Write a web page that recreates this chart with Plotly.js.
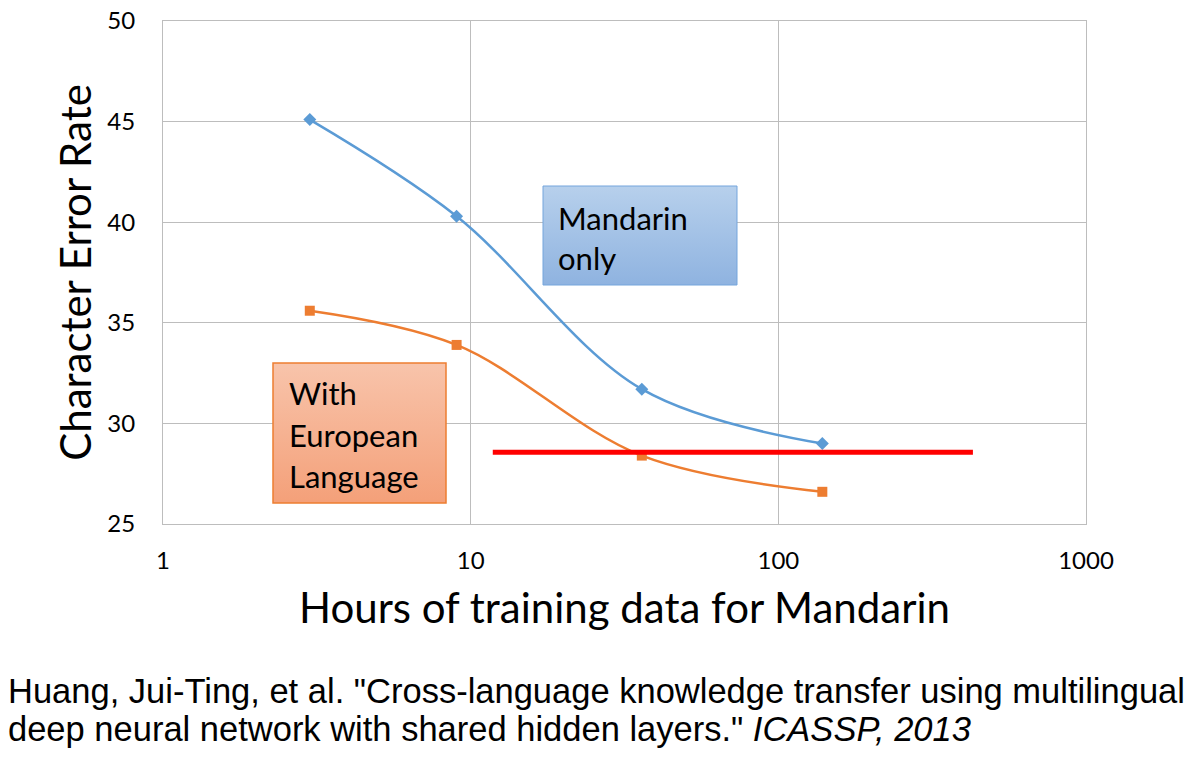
<!DOCTYPE html>
<html>
<head>
<meta charset="utf-8">
<script src="https://cdn.plot.ly/plotly-3.0.1.min.js"></script>
<style>html,body{margin:0;padding:0;background:#fff;}#chart{width:1192px;height:762px;}</style>
</head>
<body>
<div id="chart"></div>
<script>
// ---- data ----
var hours = [3, 9, 36, 139];
var cerMandarinOnly = [45.1, 40.3, 31.7, 29.0];
var cerWithEuropean = [35.6, 33.9, 28.4, 26.6];
var refLineX = [11.8, 429];
var refLineY = [28.57, 28.57];
var xTickVals = [1, 10, 100, 1000];
var xTickText = ['1', '10', '100', '1000'];
var yTickVals = [25, 30, 35, 40, 45, 50];
var yTickText = ['25', '30', '35', '40', '45', '50'];
var labelMandarin = ['Mandarin', 'only'];
var labelEuropean = ['With', 'European', 'Language'];
var xTitle = 'Hours of training data for Mandarin';
var yTitle = 'Character Error Rate';
var citationLines = [
  'Huang, Jui-Ting, et al. "Cross-language knowledge transfer using multilingual',
  'deep neural network with shared hidden layers." <i>ICASSP, 2013</i>'
];

// ---- layout helpers (pixel -> paper) ----
var W = 1192, H = 762;
var L = 163, R = 1086, T = 21, B = 524;
function px(x) { return (x - L) / (R - L); }
function py(y) { return (B - y) / (B - T); }

var FONT = 'Lato, Carlito, "Open Sans", sans-serif';

var traces = [
  {
    x: hours, y: cerMandarinOnly, type: 'scatter', mode: 'lines+markers',
    line: {color: '#5b9bd5', width: 2.5, shape: 'spline', smoothing: 1},
    marker: {symbol: 'diamond', size: 10, color: '#5b9bd5'},
    hoverinfo: 'x+y', showlegend: false
  },
  {
    x: hours, y: cerWithEuropean, type: 'scatter', mode: 'lines+markers',
    line: {color: '#ed7d31', width: 2.5, shape: 'spline', smoothing: 1},
    marker: {symbol: 'square', size: 10, color: '#ed7d31'},
    hoverinfo: 'x+y', showlegend: false
  },
  {
    x: refLineX, y: refLineY, type: 'scatter', mode: 'lines',
    line: {color: '#ff0000', width: 5},
    hoverinfo: 'skip', showlegend: false
  }
];

function gradSvg(c1, c2) {
  var s = '<svg xmlns="http://www.w3.org/2000/svg" width="100" height="100" preserveAspectRatio="none">' +
    '<defs><linearGradient id="g" x1="0" y1="0" x2="0" y2="1">' +
    '<stop offset="0" stop-color="' + c1 + '"/><stop offset="1" stop-color="' + c2 + '"/>' +
    '</linearGradient></defs><rect width="100" height="100" fill="url(#g)"/></svg>';
  return 'data:image/svg+xml;base64,' + btoa(s);
}

var boxM = {x0: 543, x1: 737, y0: 186, y1: 285};
var boxE = {x0: 273, x1: 446, y0: 363, y1: 503};

var images = [
  {source: gradSvg('#b7d0ec', '#8fb3e0'), xref: 'paper', yref: 'paper',
   x: px(boxM.x0), y: py(boxM.y0), sizex: px(boxM.x1) - px(boxM.x0), sizey: py(boxM.y0) - py(boxM.y1),
   xanchor: 'left', yanchor: 'top', sizing: 'stretch', layer: 'above'},
  {source: gradSvg('#f8c4ab', '#f4a079'), xref: 'paper', yref: 'paper',
   x: px(boxE.x0), y: py(boxE.y0), sizex: px(boxE.x1) - px(boxE.x0), sizey: py(boxE.y0) - py(boxE.y1),
   xanchor: 'left', yanchor: 'top', sizing: 'stretch', layer: 'above'}
];

var shapes = [
  {type: 'rect', xref: 'paper', yref: 'paper', x0: px(boxM.x0), x1: px(boxM.x1), y0: py(boxM.y1), y1: py(boxM.y0),
   line: {color: '#74a5dc', width: 1}, fillcolor: 'rgba(0,0,0,0)', layer: 'above'},
  {type: 'rect', xref: 'paper', yref: 'paper', x0: px(boxE.x0), x1: px(boxE.x1), y0: py(boxE.y1), y1: py(boxE.y0),
   line: {color: '#ed7d31', width: 1.5}, fillcolor: 'rgba(0,0,0,0)', layer: 'above'}
];

var annotations = [];
var mBase = [228, 268];
labelMandarin.forEach(function (t, i) {
  annotations.push({text: t, xref: 'paper', yref: 'paper', x: px(556), y: py(mBase[i] - 10),
    xanchor: 'left', yanchor: 'middle', showarrow: false, font: {family: FONT, size: 31, color: '#000'}});
});
var eBase = [403, 445, 486];
labelEuropean.forEach(function (t, i) {
  annotations.push({text: t, xref: 'paper', yref: 'paper', x: px(287), y: py(eBase[i] - 10),
    xanchor: 'left', yanchor: 'middle', showarrow: false, font: {family: FONT, size: 31, color: '#000'}});
});
var cBase = [702, 740];
citationLines.forEach(function (t, i) {
  annotations.push({text: t, xref: 'paper', yref: 'paper', x: px(6), y: py(cBase[i] - 11),
    xanchor: 'left', yanchor: 'middle', align: 'left', showarrow: false,
    font: {family: '"Liberation Sans", Arial, sans-serif', size: 34.5, color: '#000'}});
});

var layout = {
  width: W, height: H,
  margin: {l: L, r: W - R, t: T, b: H - B, pad: 0},
  paper_bgcolor: '#ffffff', plot_bgcolor: '#ffffff',
  showlegend: false,
  xaxis: {
    type: 'log', range: [0, 3],
    tickvals: xTickVals, ticktext: xTickText,
    showgrid: true, gridcolor: '#bdbdbd', gridwidth: 1,
    showline: true, linecolor: '#bdbdbd', linewidth: 1, mirror: true,
    zeroline: false, ticks: '', ticklabelstandoff: 15,
    tickfont: {family: FONT, size: 24, color: '#000'},
    title: {text: xTitle, font: {family: FONT, size: 42, color: '#000'}, standoff: 20}
  },
  yaxis: {
    range: [25, 50],
    tickvals: yTickVals, ticktext: yTickText,
    showgrid: true, gridcolor: '#bdbdbd', gridwidth: 1,
    showline: true, linecolor: '#bdbdbd', linewidth: 1, mirror: true,
    zeroline: false, ticks: '', ticklabelstandoff: 22,
    tickfont: {family: FONT, size: 24, color: '#000'},
    title: {text: yTitle, font: {family: FONT, size: 42, color: '#000'}, standoff: 2}
  },
  shapes: shapes,
  images: images,
  annotations: annotations
};

Plotly.newPlot('chart', traces, layout, {displayModeBar: false, staticPlot: true});
</script>
</body>
</html>
